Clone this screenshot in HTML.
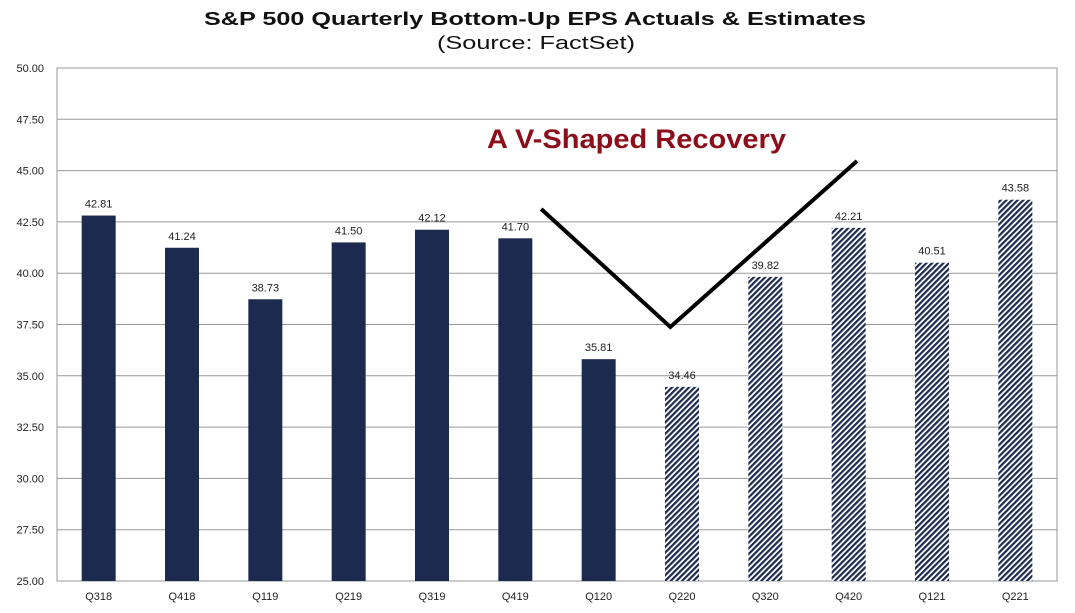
<!DOCTYPE html>
<html><head><meta charset="utf-8"><style>
body{margin:0;background:#fff;width:1075px;height:608px;overflow:hidden;font-family:"Liberation Sans",Arial,sans-serif}
</style></head><body>
<svg id="chart" width="1075" height="608" xmlns="http://www.w3.org/2000/svg">
<defs>
<pattern id="hatch" patternUnits="userSpaceOnUse" width="4" height="4" patternTransform="rotate(45)">
<rect width="4" height="4" fill="#fff"/><rect width="2.2" height="4" fill="#1c2a4f"/>
</pattern>
</defs>
<text x="204" y="25" textLength="662" lengthAdjust="spacingAndGlyphs" font-size="18" font-weight="bold" fill="#111">S&amp;P 500 Quarterly Bottom-Up EPS Actuals &amp; Estimates</text>
<text x="437" y="49" textLength="198" lengthAdjust="spacingAndGlyphs" font-size="18.5" fill="#111">(Source: FactSet)</text>
<text x="487" y="148" textLength="299" lengthAdjust="spacingAndGlyphs" font-size="27" font-weight="bold" fill="#8b0e1a">A V-Shaped Recovery</text>
<g id="grid"></g><g id="bars"></g><g id="labels"></g><g id="vline"></g>
</svg>
<script>
const categories=["Q318","Q418","Q119","Q219","Q319","Q419","Q120","Q220","Q320","Q420","Q121","Q221"];
const values=[42.81,41.24,38.73,41.50,42.12,41.70,35.81,34.46,39.82,42.21,40.51,43.58];
const isEstimate=[false,false,false,false,false,false,false,true,true,true,true,true];
const yTicks=[25,27.5,30,32.5,35,37.5,40,42.5,45,47.5,50];
const vIndex=[5.81,7.36,9.6];
const vValue=[43.13,37.38,45.47];
const X0=57,X1=1057,Y0=581,Y1=68,YMIN=25,YMAX=50;
const bw=(X1-X0)/categories.length;
const xs=i=>X0+bw*(i+0.5);
const xf=f=>X0+bw*f;
const ys=v=>Y0-(v-YMIN)/(YMAX-YMIN)*(Y0-Y1);
const NS="http://www.w3.org/2000/svg";
function mk(tag,attrs,parent){const e=document.createElementNS(NS,tag);for(const k in attrs)e.setAttribute(k,attrs[k]);document.getElementById(parent).appendChild(e);return e;}
yTicks.forEach(t=>{
 const l=mk("line",{x1:X0,x2:X1,y1:ys(t),y2:ys(t),stroke:"#999","stroke-width":1},"grid");
 
 
 const tx=mk("text",{x:44,y:ys(t)+4,"text-anchor":"end","font-size":11,fill:"#222"},"grid");
 tx.textContent=t.toFixed(2);
 
 
});
const ax=mk("line",{x1:X0,x2:X0,y1:Y1,y2:Y0,stroke:"#999"},"grid");


const border=mk("rect",{x:X0,y:Y1,width:X1-X0,height:Y0-Y1,fill:"none",stroke:"#999"},"grid");


values.forEach((v,i)=>{
 const w=34;
 const r=mk("rect",{x:xs(i)-w/2,y:ys(v),width:w,height:Y0-ys(v),fill:isEstimate[i]?"url(#hatch)":"#1c2a4f"},"bars");
 
 
 const t=mk("text",{x:xs(i),y:ys(v)-8,"text-anchor":"middle","font-size":11,fill:"#222"},"labels");
 t.textContent=v.toFixed(2);
 
 
 const c=mk("text",{x:xs(i),y:600,"text-anchor":"middle","font-size":11,fill:"#222"},"labels");
 c.textContent=categories[i];
 
 
});
const pts=vIndex.map((f,i)=>xf(f)+","+ys(vValue[i])).join(" ");
const pl=mk("polyline",{points:pts,fill:"none",stroke:"#000","stroke-width":4},"vline");


</script>
</body></html>
